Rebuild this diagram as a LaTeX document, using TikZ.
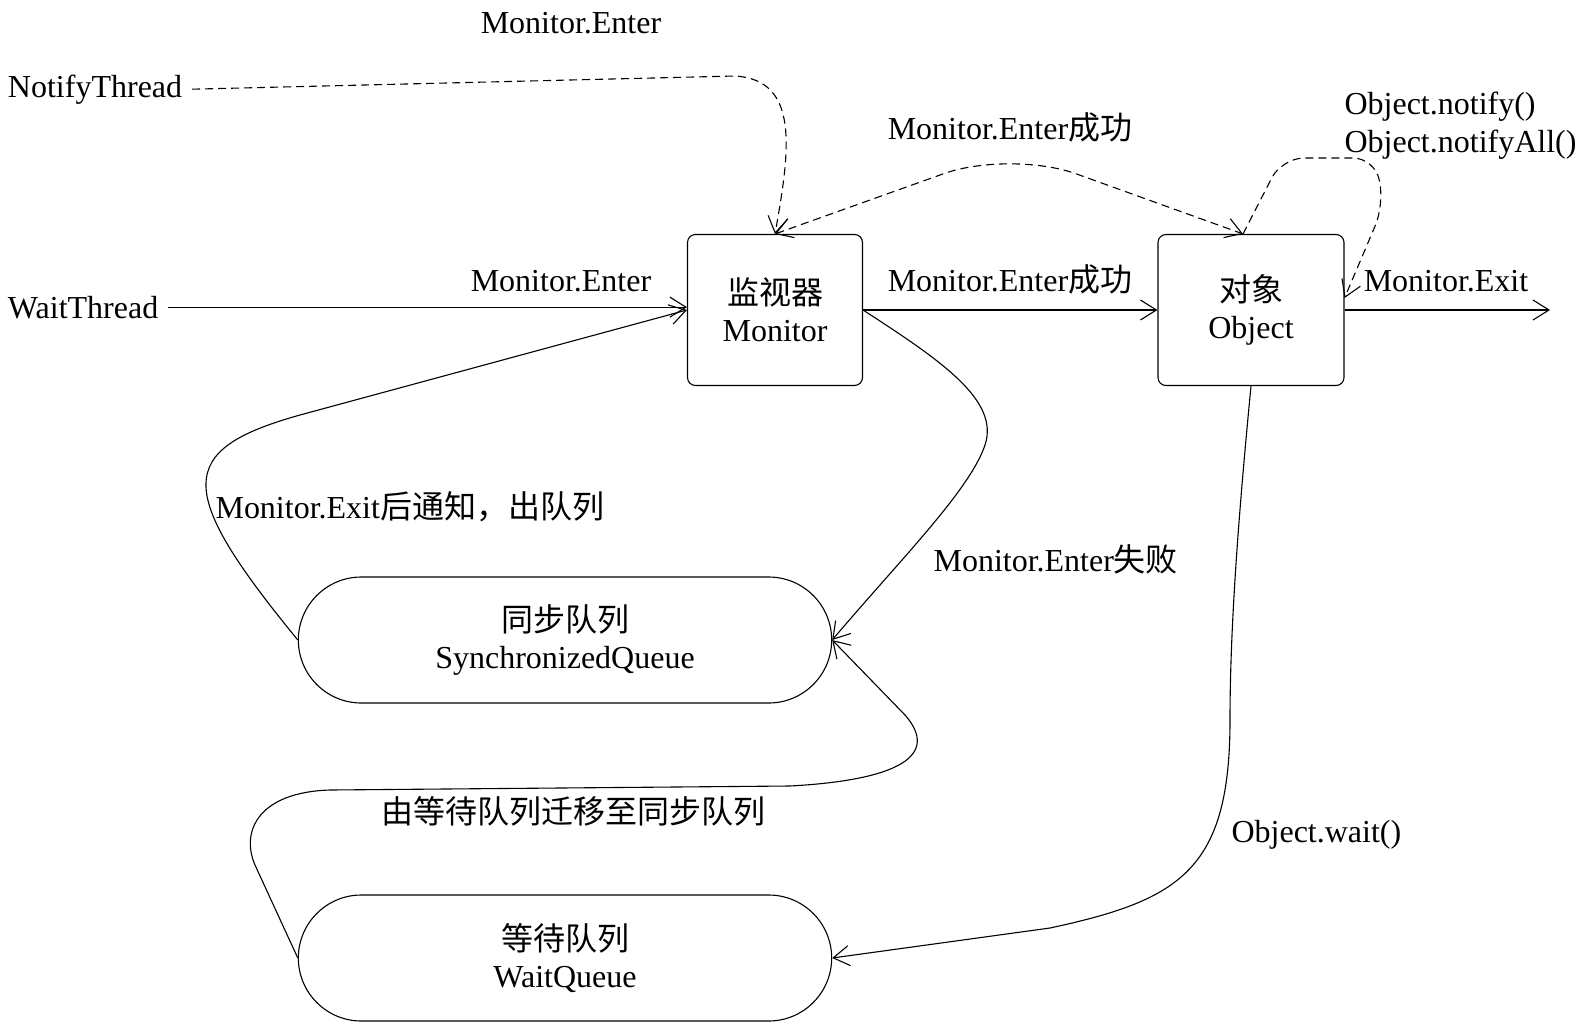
\documentclass[tikz,border=0pt]{standalone}
\usepackage{fontspec}
\setmainfont{Liberation Serif}
\newfontfamily\cjk{Noto Sans CJK SC}
\usetikzlibrary{arrows.meta, shapes.misc}

\begin{document}
\begin{tikzpicture}[
    x=1pt, y=-1pt,
    >={Straight Barb[length=16pt, width=20pt]},
    line width=1.1pt,
    every node/.style={font=\fontsize{32}{37}\selectfont},
    box/.style={draw, rounded corners=8pt, minimum height=151pt, align=center},
    queue/.style={draw, rounded rectangle, minimum width=540pt, minimum height=126pt, align=center},
    lbl/.style={anchor=base west, inner sep=0pt},
    thread/.style={anchor=base west, inner sep=0pt, outer xsep=10pt},
    dashline/.style={dash pattern=on 8pt off 5pt},
  ]
  \useasboundingbox (0,0) rectangle (1585,1023);
  % nodes
  \node[box, minimum width=175pt] (mon) at (775,310) {{\cjk 监视器}\\Monitor};
  \node[box, minimum width=186pt] (obj) at (1251,310) {{\cjk 对象}\\Object};
  \node[queue] (sq) at (565,640) {{\cjk 同步队列}\\SynchronizedQueue};
  \node[queue] (wq) at (565,958) {{\cjk 等待队列}\\WaitQueue};
  \node[thread] (nt) at (-2,97) {NotifyThread};
  \node[thread] (wt) at (-2,318) {WaitThread};
  \coordinate (exitEnd) at (1550,310);
  % labels
  \node[lbl, anchor=base] (lEnterTop) at (571,33) {Monitor.Enter};
  \node[lbl, anchor=base] (lEnter) at (561,291) {Monitor.Enter};
  \node[lbl, anchor=base] (lOkTop) at (1010,139) {Monitor.Enter{\cjk 成功}};
  \node[lbl, anchor=base] (lOk) at (1010,291) {Monitor.Enter{\cjk 成功}};
  \node[lbl, anchor=base] (lExit) at (1446,291) {Monitor.Exit};
  \node[lbl] (lNotify) at (1344,114) {Object.notify()};
  \node[lbl] (lNotifyAll) at (1344,152) {Object.notifyAll()};
  \node[lbl] (lExitNotify) at (215,518) {Monitor.Exit{\cjk 后通知，出队列}};
  \node[lbl] (lFail) at (933,571) {Monitor.Enter{\cjk 失败}};
  \node[lbl] (lMove) at (381,823) {\cjk 由等待队列迁移至同步队列};
  \node[lbl] (lWait) at (1231,842) {Object.wait()};
  % solid arrows
  \draw[->] (wt.east) -- (wt.east -| mon.west);
  \draw[->] (mon.east) -- (obj.west);
  \draw[->] (obj.east) -- (exitEnd);
  \draw[->] (sq.west) .. controls (175,490) and (175,450) .. (300,415) -- (mon.west);
  \draw[->] (mon.east) .. controls (940,360) and (1000,400) .. (985,445)
    .. controls (970,490) and (900,560) .. (sq.east);
  \draw[->] (wq.west) -- (255,865) .. controls (240,830) and (260,792) .. (330,790)
    -- (790,786) .. controls (900,780) and (940,755) .. (905,715) -- (sq.east);
  \draw[->] (obj.south) .. controls (1240,500) and (1230,620) .. (1230,720)
    .. controls (1230,870) and (1180,900) .. (1050,928) -- (wq.east);
  % dashed arrows
  \draw[->, dashline] (nt.east) -- (735,76) .. controls (800,80) and (790,150) .. (mon.north);
  \draw[<->, dashline, rounded corners=70pt] (mon.north) -- (1010,150) -- ([xshift=-8pt]obj.north);
  \draw[->, dashline, rounded corners=22pt] ([xshift=-8pt]obj.north) -- (1282,158) -- (1375,158)
    -- (1384,205) -- ([yshift=12pt]obj.east);
\end{tikzpicture}
\end{document}
